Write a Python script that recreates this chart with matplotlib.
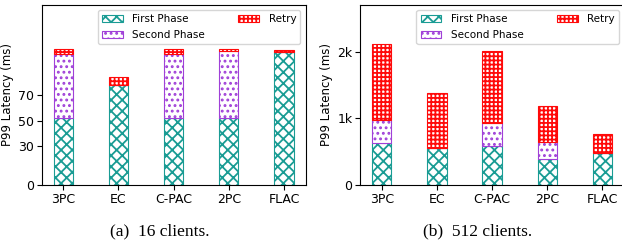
import matplotlib.pyplot as plt
import numpy as np

systems = ["3PC", "EC", "C-PAC", "2PC", "FLAC"]

# 16 clients (ms)
first_16 = [52, 78, 52, 52, 103]
second_16 = [50, 0, 50, 52, 0]
retry_16 = [4, 6, 4, 2, 2]

# 512 clients (ms)
first_512 = [625, 550, 590, 385, 475]
second_512 = [350, 0, 335, 265, 0]
retry_512 = [1135, 835, 1085, 535, 285]

teal = "#1a9c94"
purple = "#a040d8"
red = "#ff0a0a"

plt.rcParams["hatch.linewidth"] = 1.3

fig = plt.figure(figsize=(6.22, 2.43), dpi=100)
ax1 = fig.add_axes([0.067, 0.239, 0.4244, 0.741])
ax2 = fig.add_axes([0.579, 0.239, 0.4244, 0.741])


def draw(ax, first, second, retry):
    x = np.arange(len(systems))
    f = np.array(first)
    s = np.array(second)
    r = np.array(retry)
    ax.bar(x, f, 0.35, color="white", edgecolor=teal, hatch="xxx", lw=0.8, label="First Phase")
    ax.bar(x, s, 0.35, bottom=f, color="white", edgecolor=purple, hatch="...", lw=0.8, label="Second Phase")
    ax.bar(x, r, 0.35, bottom=f + s, color="white", edgecolor=red, hatch="++++", lw=0.8, label="Retry")
    ax.set_xticks(x)
    ax.set_xticklabels(systems, fontsize=9)
    ax.set_ylabel("P99 Latency (ms)", fontsize=8.5, labelpad=3)
    ax.tick_params(axis="both", labelsize=9, pad=2)
    ax.legend(loc="upper right", ncol=2, fontsize=7.5, handlelength=2.0,
              columnspacing=3.2, borderaxespad=0.5, handletextpad=0.9,
              labelspacing=0.55)


draw(ax1, first_16, second_16, retry_16)
ax1.set_ylim(0, 140)
ax1.set_yticks([0, 30, 50, 70])

draw(ax2, first_512, second_512, retry_512)
ax2.set_ylim(0, 2700)
ax2.set_yticks([0, 1000, 2000])
ax2.set_yticklabels(["0", "1k", "2k"])

fig.text(0.257, 0.03, "(a)  16 clients.", ha="center", fontsize=12.5, family="Liberation Serif")
fig.text(0.767, 0.03, "(b)  512 clients.", ha="center", fontsize=12.5, family="Liberation Serif")

fig.savefig("out.png", dpi=100)
